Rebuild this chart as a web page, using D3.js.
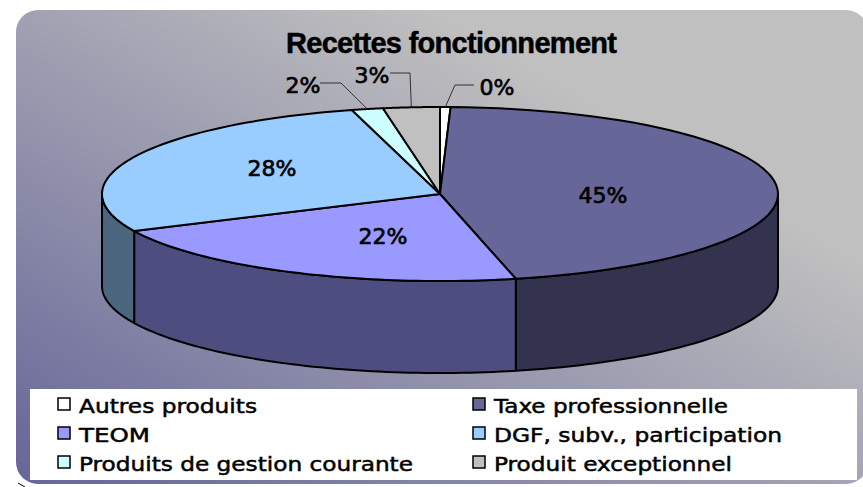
<!DOCTYPE html>
<html>
<head>
<meta charset="utf-8">
<script src="https://cdnjs.cloudflare.com/ajax/libs/d3/7.8.5/d3.min.js"></script>
<style>
  html, body { margin: 0; padding: 0; background: #fff; overflow: hidden; }
  text { font-family: "DejaVu Sans", sans-serif; fill: #000; }
</style>
</head>
<body>
<div id="chart"></div>
<script>
const categories = ['Autres produits', 'Taxe professionnelle', 'TEOM', 'DGF, subv., participation', 'Produits de gestion courante', 'Produit exceptionnel']
// slice sizes as measured on the disc, printed labels below
const shares = [0.5, 45.9, 21.6, 27.8, 1.5, 2.7]
const percentLabels = ['0%', '45%', '22%', '28%', '2%', '3%']
const topColors = ['#ffffff', '#666699', '#9999ff', '#99ccff', '#ccffff', '#c0c0c0']
const wallColors = ['#808080', '#333350', '#4d4d80', '#4d6680', '#668080', '#606060']

const config = {
  width: 863, height: 487,
  cx: 440, cy: 194, rx: 338, ry: 87, depth: 92,
  // label centres, in slice order
  labels: [[497, 87], [603, 195], [383, 236], [272, 168], [303, 85], [372, 75]],
  // elbows of the outside leader lines, from label side to bend
  leaders: { 0: [[474, 85], [455, 85]], 4: [[320, 83], [341, 83]], 5: [[390, 73], [410, 73]] },
  legendWidths: [178, 234, 71, 288, 334, 238]
}

const svg = d3.select('#chart').append('svg')
  .attr('width', config.width)
  .attr('height', config.height)
  .style('display', 'block')

const grad = svg.append('defs').append('linearGradient')
  .attr('id', 'bg')
  .attr('gradientUnits', 'userSpaceOnUse')
  .attr('x1', 20).attr('y1', 480)
  .attr('x2', 333).attr('y2', -48)
grad.append('stop').attr('offset', 0).attr('stop-color', '#666699')
grad.append('stop').attr('offset', 1).attr('stop-color', '#c0c0c0')

svg.append('rect')
  .attr('x', 16).attr('y', 10)
  .attr('width', 852).attr('height', 474)
  .attr('rx', 22)
  .attr('fill', 'url(#bg)')

// stray corner mark in the source picture
svg.append('path')
  .attr('d', 'M18,483L25,487')
  .attr('stroke', '#000')
  .attr('stroke-width', 1)

// title
svg.append('text')
  .attr('x', 286).attr('y', 53)
  .attr('textLength', 331)
  .attr('lengthAdjust', 'spacing')
  .style('font-family', '"Liberation Sans", sans-serif')
  .style('font-weight', 'bold')
  .style('font-size', '29px')
  .style('stroke', '#000')
  .style('stroke-width', 0.5)
  .text('Recettes fonctionnement')

const pie = d3.pie().sort(null).value(d => d)
const slices = pie(shares)

// tilted disc: angle 0 is at the top, going clockwise
const px = a => config.cx + config.rx * Math.sin(a)
const py = a => config.cy - config.ry * Math.cos(a)
const angles = (a0, a1) => d3.range(0, 61).map(i => a0 + (a1 - a0) * i / 60)

const wall = d3.area()
  .x(a => px(a))
  .y0(a => py(a))
  .y1(a => py(a) + config.depth)

const g = svg.append('g')

// walls, only the front half of the disc shows
slices.forEach((s, i) => {
  const a0 = Math.max(s.startAngle, Math.PI / 2)
  const a1 = Math.min(s.endAngle, Math.PI * 3 / 2)
  if (a1 <= a0) return
  g.append('path')
    .attr('d', wall(angles(a0, a1)))
    .attr('fill', wallColors[i])
    .attr('stroke', '#000')
    .attr('stroke-width', 2)
    .attr('stroke-linejoin', 'round')
})

// top face
const line = d3.line().x(d => d[0]).y(d => d[1])
g.selectAll('.slice')
  .data(slices)
  .enter()
  .append('path')
  .attr('class', 'slice')
  .attr('d', s => line([[config.cx, config.cy]].concat(angles(s.startAngle, s.endAngle).map(a => [px(a), py(a)]))) + 'Z')
  .attr('fill', (s, i) => topColors[i])
  .attr('stroke', '#000')
  .attr('stroke-width', 2)
  .attr('stroke-linejoin', 'round')

// leader lines
Object.keys(config.leaders).forEach(key => {
  const s = slices[key]
  const mid = (s.startAngle + s.endAngle) / 2
  svg.append('path')
    .attr('d', line(config.leaders[key].concat([[px(mid), py(mid)]])))
    .attr('fill', 'none')
    .attr('stroke', '#333')
    .attr('stroke-width', 1)
})

// percent labels
svg.selectAll('.pct')
  .data(slices)
  .enter()
  .append('text')
  .attr('class', 'pct')
  .attr('x', (s, i) => config.labels[i][0])
  .attr('y', (s, i) => config.labels[i][1])
  .attr('dy', '0.36em')
  .attr('text-anchor', 'middle')
  .style('font-size', '22px')
  .style('stroke', '#000')
  .style('stroke-width', 0.7)
  .text((s, i) => percentLabels[i])

// legend
svg.append('rect')
  .attr('x', 30).attr('y', 389)
  .attr('width', 827).attr('height', 91)
  .attr('fill', '#fff')

const col = d3.scalePoint().domain([0, 1]).range([58, 473])
const row = d3.scalePoint().domain([0, 1, 2]).range([398, 456])

const item = svg.selectAll('.legend')
  .data(categories)
  .enter()
  .append('g')
  .attr('class', 'legend')
  .attr('transform', (d, i) => `translate(${col(i % 2)},${row(Math.floor(i / 2))})`)

item.append('rect')
  .attr('width', 12).attr('height', 12)
  .attr('fill', (d, i) => topColors[i])
  .attr('stroke', '#000')
  .attr('stroke-width', 1.5)

item.append('text')
  .attr('x', 21).attr('y', 15)
  .attr('textLength', (d, i) => config.legendWidths[i])
  .attr('lengthAdjust', 'spacingAndGlyphs')
  .style('font-size', '20px')
  .style('stroke', '#000')
  .style('stroke-width', 0.5)
  .text(d => d)
</script>
</body>
</html>
